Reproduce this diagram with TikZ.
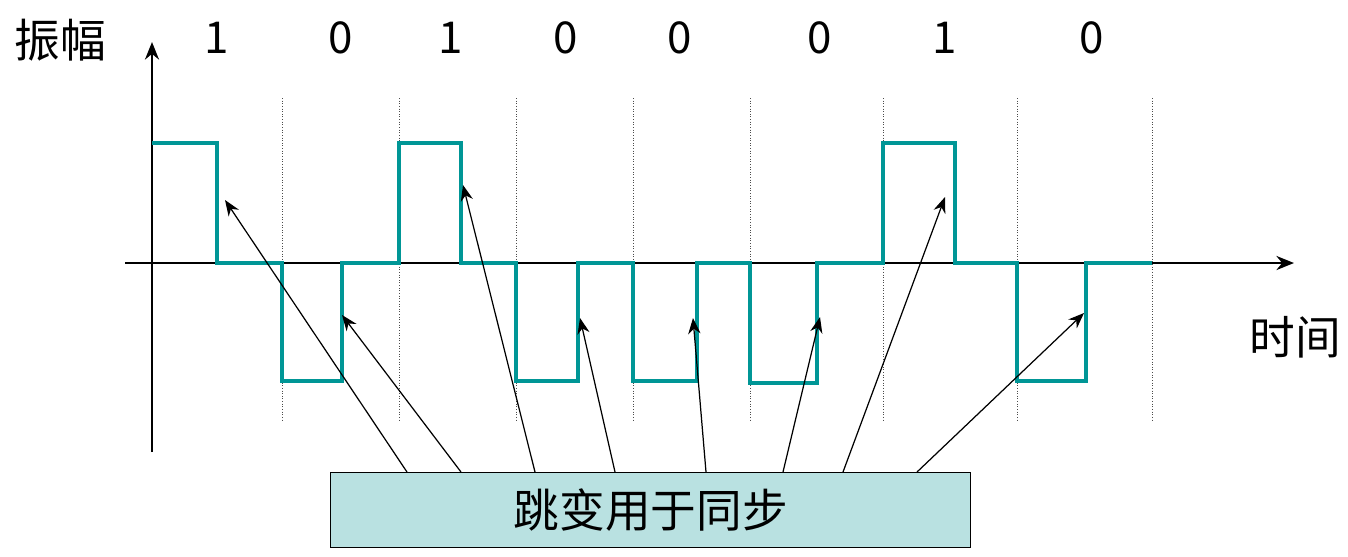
\documentclass[tikz,border=0pt]{standalone}
\usepackage{fontspec}
\setmainfont{Noto Sans CJK SC}
\usetikzlibrary{arrows.meta}
\definecolor{wave}{RGB}{0,150,150}
\definecolor{boxfill}{RGB}{185,225,225}
\tikzset{
	axis/.style={line width=1.4pt, -{Stealth[length=10pt,width=8pt]}},
	grid/.style={densely dotted, line width=0.5pt, black!70},
	signal/.style={wave, line width=2.4pt, line join=miter},
	pointer/.style={line width=0.7pt, -{Stealth[length=9pt,width=7pt]}},
	bit/.style={font=\fontsize{25}{28}\selectfont},
	cjk/.style={font=\fontsize{26}{30}\selectfont}
}
\begin{document}
\begin{tikzpicture}[x=0.02cm, y=-0.02cm]
		\useasboundingbox (0, 0) rectangle (1348, 556);

		% axes
		\coordinate (ybot) at (152, 452);
		\coordinate (ytop) at (152, 42);
		\coordinate (xl) at (125, 263);
		\coordinate (xr) at (1294, 263);
		\draw[axis] (ybot) -- (ytop);
		\draw[axis] (xl) -- (xr);
		\node[cjk] (amp) at (60, 40){振幅};
		\node[cjk] (time) at (1295, 337){时间};

		% bit cells
		\foreach \x in {282, 399, 516, 633, 750, 883, 1017, 1152}
			\draw[grid] (\x, 98) -- (\x, 422);

		%%%%%%%%%%%%%%%%%%%%%%%%%%%%
		\node[bit] (b1) at (217, 38){1};
		\node[bit] (b2) at (341, 38){0};
		\node[bit] (b3) at (451, 38){1};
		\node[bit] (b4) at (566, 38){0};
		\node[bit] (b5) at (680, 38){0};
		\node[bit] (b6) at (820, 38){0};
		\node[bit] (b7) at (945, 38){1};
		\node[bit] (b8) at (1092, 38){0};

		% waveform
		\draw[signal] (152, 143) -- (217, 143) -- (217, 263) -- (282, 263)
			-- (282, 381) -- (342, 381) -- (342, 263) -- (399, 263)
			-- (399, 143) -- (461, 143) -- (461, 263) -- (516, 263)
			-- (516, 381) -- (578, 381) -- (578, 263) -- (633, 263)
			-- (633, 381) -- (697, 381) -- (697, 263) -- (750, 263)
			-- (750, 383) -- (817, 383) -- (817, 263) -- (883, 263)
			-- (883, 143) -- (955, 143) -- (955, 263) -- (1017, 263)
			-- (1017, 381) -- (1086, 381) -- (1086, 263) -- (1152, 263);

		% label box
		\node[draw, fill=boxfill, line width=0.8pt, minimum width=640*0.02cm,
			minimum height=75*0.02cm, cjk, anchor=north west] (sync) at (330, 472){跳变用于同步};

		\foreach \i/\sx/\tx/\ty in {1/407/225/200, 2/461/342/315, 3/535/463/185,
				4/615/580/318, 5/706/693/318, 6/783/820/317, 7/843/945/197, 8/917/1084/313}{
			\coordinate (s\i) at (\sx, 472);
			\coordinate (t\i) at (\tx, \ty);
			\draw[pointer] (s\i) -- (t\i);
		}
\end{tikzpicture}
\end{document}
